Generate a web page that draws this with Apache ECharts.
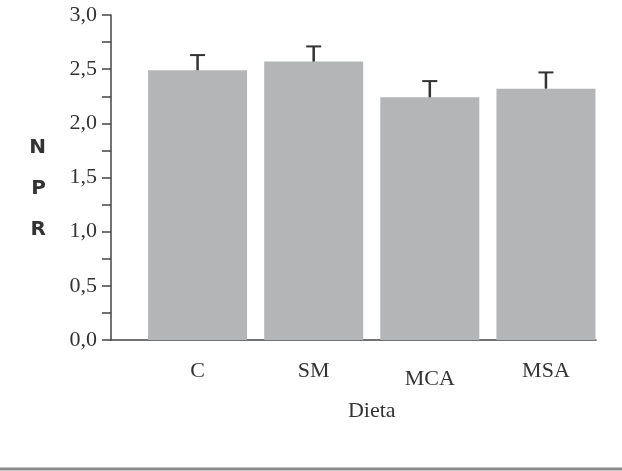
<!DOCTYPE html>
<html>
<head>
<meta charset="utf-8">
<script src="https://cdn.jsdelivr.net/npm/echarts@6/dist/echarts.min.js"></script>
<style>
  html, body { margin: 0; padding: 0; background: #fff; }
  #chart { width: 622px; height: 471px; }
</style>
</head>
<body>
<div id="chart"></div>
<script>
// data
const categories = ['C', 'SM', 'MCA', 'MSA'];
const npr = [2.49, 2.57, 2.24, 2.32];
const errors = [0.14, 0.14, 0.15, 0.15];

const serif = '"Liberation Serif", "DejaVu Serif", serif';
const chart = echarts.init(document.getElementById('chart'));

chart.setOption({
  animation: false,
  grid: [
    // grid holding the visible axes
    { left: 111, right: 26, top: 15, bottom: 131 },
    // grid holding the bars (shifted to the right like the original)
    { left: 139.5, right: 18, top: 15, bottom: 131 }
  ],
  xAxis: [
    {
      gridIndex: 0,
      type: 'value',
      min: 0,
      max: 1,
      axisLine: { show: true, lineStyle: { color: '#444', width: 1.5 } },
      axisTick: { show: false },
      axisLabel: { show: false },
      splitLine: { show: false }
    },
    {
      gridIndex: 1,
      type: 'category',
      data: categories,
      axisLine: { show: false },
      axisTick: { show: false },
      axisLabel: {
        interval: 0,
        margin: 20,
        color: '#333',
        fontFamily: serif,
        fontSize: 22,
        formatter: function(v) {
          return v === 'MCA' ? '{low|' + v + '}' : v;
        },
        rich: {
          low: { fontFamily: serif, fontSize: 22, color: '#333', padding: [8, 0, 0, 0] }
        }
      },
      name: 'Dieta',
      nameLocation: 'middle',
      nameGap: 60,
      nameTextStyle: { color: '#333', fontFamily: serif, fontSize: 22 }
    }
  ],
  yAxis: [
    {
      gridIndex: 0,
      type: 'value',
      min: 0,
      max: 3,
      interval: 0.5,
      axisLine: { show: true, lineStyle: { color: '#444', width: 1.5 } },
      axisTick: { show: true, length: 9, lineStyle: { color: '#444', width: 1.5 } },
      minorTick: { show: true, splitNumber: 2, length: 9, lineStyle: { color: '#444', width: 1.5 } },
      axisLabel: {
        margin: 14,
        color: '#333',
        fontFamily: serif,
        fontSize: 22,
        formatter: function(v) {
          return v.toFixed(1).replace('.', ',');
        }
      },
      splitLine: { show: false },
      name: '{npr|N\nP\nR}',
      nameLocation: 'middle',
      nameRotate: 0,
      nameGap: 65,
      nameTextStyle: {
        rich: {
          npr: {
            color: '#333',
            fontFamily: '"DejaVu Sans", sans-serif',
            fontWeight: 'bold',
            fontSize: 20,
            lineHeight: 41,
            padding: [22, 0, 0, 0]
          }
        }
      }
    },
    {
      gridIndex: 1,
      type: 'value',
      min: 0,
      max: 3,
      show: false
    }
  ],
  series: [
    {
      type: 'bar',
      xAxisIndex: 1,
      yAxisIndex: 1,
      barWidth: 99,
      data: npr,
      itemStyle: { color: '#b3b5b6' }
    },
    {
      type: 'custom',
      xAxisIndex: 1,
      yAxisIndex: 1,
      data: npr.map((v, i) => [i, v, v + errors[i]]),
      renderItem: function(params, api) {
        const base = api.coord([api.value(0), api.value(1)]);
        const top = api.coord([api.value(0), api.value(2)]);
        const style = { stroke: '#333', lineWidth: 2.5 };
        return {
          type: 'group',
          children: [
            { type: 'line', shape: { x1: top[0], y1: top[1], x2: base[0], y2: base[1] }, style: style },
            { type: 'line', shape: { x1: top[0] - 7.5, y1: top[1], x2: top[0] + 7.5, y2: top[1] }, style: { stroke: '#333', lineWidth: 2 } }
          ]
        };
      },
      z: 3
    }
  ],
  graphic: [
    {
      type: 'rect',
      left: 0,
      top: 467.5,
      shape: { width: 622, height: 3 },
      style: { fill: '#8a8a8a' }
    }
  ]
});
</script>
</body>
</html>
